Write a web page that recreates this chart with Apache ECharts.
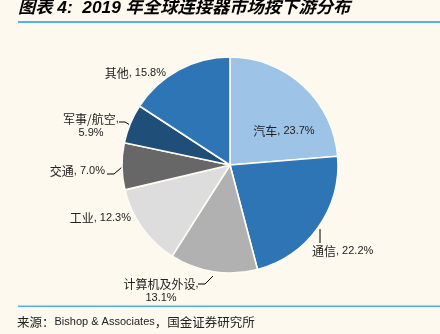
<!DOCTYPE html>
<html>
<head>
<meta charset="utf-8">
<script src="https://cdn.jsdelivr.net/npm/echarts@6/dist/echarts.min.js"></script>
<style>
  html, body { margin: 0; padding: 0; background: #FDF9EF; }
  #chart { width: 440px; height: 334px; }
</style>
</head>
<body>
<div id="chart"></div>
<script>
// 2019 global connector market by end use (share, %)
const categories = ['汽车', '通信', '计算机及外设', '工业', '交通', '军事/航空', '其他'];
const shares = [23.7, 22.2, 13.1, 12.3, 7.0, 5.9, 15.8];
const sliceColors = ['#9DC3E6', '#2E75B6', '#B1B1B1', '#DDDDDD', '#676767', '#1F4E79', '#2E75B6'];

const titleText = '图表 4:  2019 年全球连接器市场按下游分布';
const sourceParts = ['来源：', 'Bishop & Associates', '，国金证券研究所'];

// pie geometry
const CX = 230, CY = 165, R = 108;

// label anchors relative to the pie centre, plus optional leader polylines
const labelPlacement = {
  '汽车':       { dx: 54,   dy: -34, align: 'center' },
  '通信':       { dx: 82,   dy: 86,  align: 'left',
                  line: [[90, 64], [90, 78]] },
  '计算机及外设': { dx: -69,  dy: 126, align: 'center', twoLines: true,
                  line: [[-17, 111], [-25, 119], [-32, 119]] },
  '工业':       { dx: -99,  dy: 53,  align: 'right' },
  '交通':       { dx: -125, dy: 6,   align: 'right',
                  line: [[-108, 2], [-116, 9], [-123, 9]] },
  '军事/航空':   { dx: -139, dy: -39, align: 'center', twoLines: true,
                  line: [[-100, -40], [-105, -43], [-111, -43]] },
  '其他':       { dx: -64,  dy: -92, align: 'right' }
};

const LATIN = '"Liberation Sans", "Noto Sans CJK SC", sans-serif';
const CJK = '"Noto Sans CJK SC", "Liberation Sans", sans-serif';

const data = categories.map((name, i) => {
  const p = labelPlacement[name];
  return {
    name: name,
    value: shares[i],
    itemStyle: { color: sliceColors[i] },
    labelLine: { show: !!p.line }
  };
});

const chart = echarts.init(document.getElementById('chart'), null, { renderer: 'canvas' });

chart.setOption({
  backgroundColor: '#FDF9EF',
  animation: false,
  graphic: [
    {
      type: 'text', x: 18, y: 8,
      style: {
        text: titleText, fill: '#000',
        font: 'italic bold 17.3px ' + LATIN,
        verticalAlign: 'middle'
      }
    },
    { type: 'rect', shape: { x: 18, y: 21, width: 422, height: 2 }, style: { fill: '#53B3E6' } },
    { type: 'rect', shape: { x: 18, y: 305.5, width: 422, height: 1.6 }, style: { fill: '#53B3E6' } },
    {
      type: 'text', x: 17, y: 322,
      style: {
        text: '{c|' + sourceParts[0] + '}{l|' + sourceParts[1] + '}{c|' + sourceParts[2] + '}',
        verticalAlign: 'middle',
        rich: {
          c: { fontSize: 12.5, fontFamily: CJK, fill: '#222' },
          l: { fontSize: 11, fontFamily: LATIN, fill: '#222' }
        }
      }
    }
  ],
  series: [{
    type: 'pie',
    center: [CX, CY],
    radius: R,
    startAngle: 90,
    clockwise: true,
    data: data,
    itemStyle: { borderColor: '#FFFCF4', borderWidth: 1.6 },
    emphasis: { disabled: true },
    label: {
      show: true,
      position: 'outside',
      color: '#222',
      fontSize: 11,
      lineHeight: 14,
      fontFamily: LATIN,
      formatter: (params) => {
        const p = labelPlacement[params.name];
        const v = params.value.toFixed(1) + '%';
        return p.twoLines
          ? '{n|' + params.name + '}{v|,}\n{v|' + v + '}'
          : '{n|' + params.name + '}{v|, ' + v + '}';
      },
      rich: {
        n: { fontSize: 12, fontFamily: CJK, color: '#222', lineHeight: 14 },
        v: { fontSize: 11, fontFamily: LATIN, color: '#222', lineHeight: 14 }
      }
    },
    labelLine: {
      show: true,
      length: 8, length2: 8,
      lineStyle: { color: '#000', width: 1 }
    },
    labelLayout: (params) => {
      const name = categories[params.dataIndex];
      const p = labelPlacement[name];
      const out = {
        x: CX + p.dx,
        y: CY + p.dy,
        align: p.align,
        verticalAlign: 'middle'
      };
      if (p.line) {
        out.labelLinePoints = p.line.map(pt => [CX + pt[0], CY + pt[1]]);
      }
      return out;
    }
  }]
});
</script>
</body>
</html>
